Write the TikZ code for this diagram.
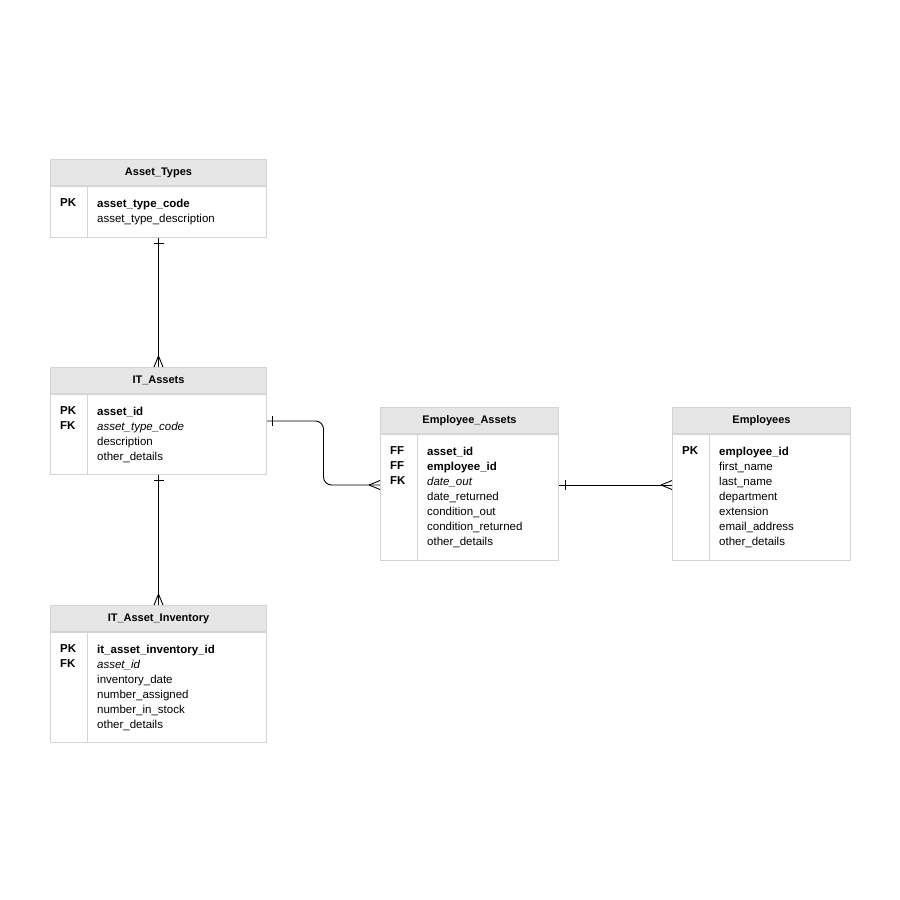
\documentclass[tikz,border=0pt]{standalone}
\usepackage{fontspec}
\setmainfont{Liberation Sans}
\usepackage{xcolor}
\usetikzlibrary{positioning, calc}
\definecolor{tblgray}{HTML}{D4D4D4}
\definecolor{hdrgray}{HTML}{E6E6E6}

\begin{document}
\begin{tikzpicture}[
        x=1pt, y=1pt,
        hdr/.style={draw=tblgray, fill=hdrgray, line width=1pt, minimum height=26pt,
                    inner sep=0pt, anchor=north west, font=\fontsize{11}{15}\selectfont\bfseries},
        tbl/.style={draw=tblgray, fill=white, line width=1pt, inner sep=0pt,
                    below=0pt of #1},
        grid/.style={draw=tblgray, line width=1pt},
        keys/.style={anchor=north west, align=left, inner sep=0pt,
                     font=\fontsize{11.5}{15}\selectfont\bfseries},
        fields/.style={anchor=north west, align=left, inner sep=0pt,
                       font=\fontsize{11.5}{15}\selectfont},
        rel/.style={draw=black, line width=0.9pt},
        crow/.pic={\draw[rel] (-11,0) -- (0,4.5) (-11,0) -- (0,-4.5);},
        one/.pic={\draw[rel] (0,-5) -- (0,5);},
    ]
        \fill[white] (0,0) rectangle (900,-900);

        % Asset_Types
        \node[hdr, minimum width=216pt] (ath) at (50,-159) {Asset\_Types};
        \node[tbl=ath, minimum width=216pt, minimum height=51pt] (atb) {};
        \draw[grid] ($(atb.north west)+(37,0)$) -- ($(atb.south west)+(37,0)$);
        \node[keys] at ($(atb.north west)+(10,-12.6)$) {PK};
        \node[fields] at ($(atb.north west)+(47,-12.6)$)
            {\textbf{asset\_type\_code}\\asset\_type\_description};

        % IT_Assets
        \node[hdr, minimum width=216pt] (ith) at (50,-367) {IT\_Assets};
        \node[tbl=ith, minimum width=216pt, minimum height=80pt] (itb) {};
        \draw[grid] ($(itb.north west)+(37,0)$) -- ($(itb.south west)+(37,0)$);
        \node[keys] at ($(itb.north west)+(10,-12.6)$) {PK\\FK};
        \node[fields] at ($(itb.north west)+(47,-12.6)$)
            {\textbf{asset\_id}\\\textit{asset\_type\_code}\\description\\other\_details};

        % IT_Asset_Inventory
        \node[hdr, minimum width=216pt] (invh) at (50,-605) {IT\_Asset\_Inventory};
        \node[tbl=invh, minimum width=216pt, minimum height=110pt] (invb) {};
        \draw[grid] ($(invb.north west)+(37,0)$) -- ($(invb.south west)+(37,0)$);
        \node[keys] at ($(invb.north west)+(10,-12.6)$) {PK\\FK};
        \node[fields] at ($(invb.north west)+(47,-12.6)$)
            {\textbf{it\_asset\_inventory\_id}\\\textit{asset\_id}\\inventory\_date\\
             number\_assigned\\number\_in\_stock\\other\_details};

        % Employee_Assets
        \node[hdr, minimum width=178pt] (eah) at (380,-407) {Employee\_Assets};
        \node[tbl=eah, minimum width=178pt, minimum height=126pt] (eab) {};
        \draw[grid] ($(eab.north west)+(37,0)$) -- ($(eab.south west)+(37,0)$);
        \node[keys] at ($(eab.north west)+(10,-12.6)$) {FF\\FF\\FK};
        \node[fields] at ($(eab.north west)+(47,-12.6)$)
            {\textbf{asset\_id}\\\textbf{employee\_id}\\\textit{date\_out}\\date\_returned\\
             condition\_out\\condition\_returned\\other\_details};

        % Employees
        \node[hdr, minimum width=178pt] (emh) at (672,-407) {Employees};
        \node[tbl=emh, minimum width=178pt, minimum height=126pt] (emb) {};
        \draw[grid] ($(emb.north west)+(37,0)$) -- ($(emb.south west)+(37,0)$);
        \node[keys] at ($(emb.north west)+(10,-12.6)$) {PK};
        \node[fields] at ($(emb.north west)+(47,-12.6)$)
            {\textbf{employee\_id}\\first\_name\\last\_name\\department\\extension\\
             email\_address\\other\_details};

        % Relationships
        \draw[rel] (atb.south) -- (ith.north);
        \pic[rotate=90] at ($(atb.south)+(0,-5)$) {one};
        \pic[rotate=-90] at (ith.north) {crow};

        \draw[rel] (itb.south) -- (invh.north);
        \pic[rotate=90] at ($(itb.south)+(0,-5)$) {one};
        \pic[rotate=-90] at (invh.north) {crow};

        \coordinate (itout) at ($(itb.north east)+(0,-27)$);
        \coordinate (eain) at ($(eab.north west)+(0,-51)$);
        \coordinate (mid) at ($(itout)!0.5!(eain)$);
        \draw[rel, rounded corners=8pt] (itout) -| (mid) |- (eain);
        \pic at ($(itout)+(5,0)$) {one};
        \pic at (eain) {crow};

        \coordinate (eaout) at ($(eab.north east)+(0,-51)$);
        \coordinate (emin) at ($(emb.north west)+(0,-51)$);
        \draw[rel] (eaout) -- (emin);
        \pic at ($(eaout)+(6,0)$) {one};
        \pic at (emin) {crow};
    \end{tikzpicture}
\end{document}
